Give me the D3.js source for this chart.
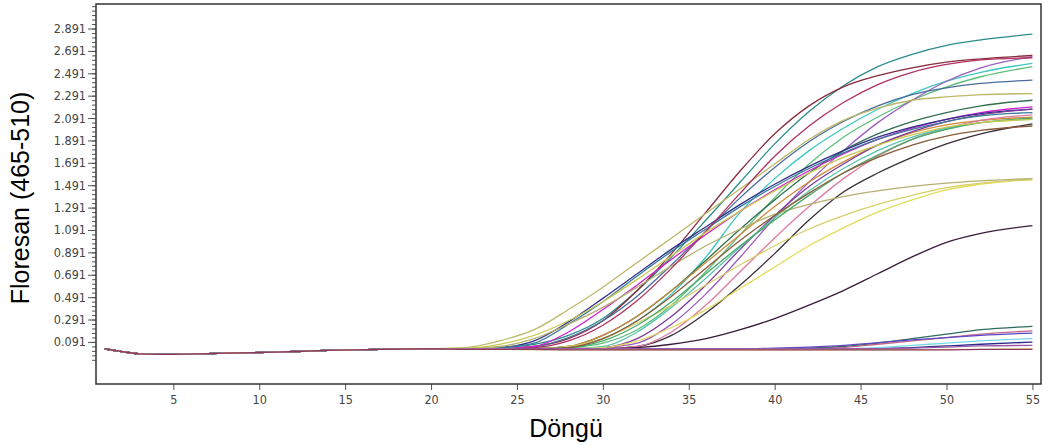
<!DOCTYPE html>
<html>
<head>
<meta charset="utf-8">
<script src="https://cdn.jsdelivr.net/npm/d3@7"></script>
<style>
  body { margin: 0; background: #fff; }
  .tick text { font-family: "Liberation Sans Narrow", "DejaVu Sans Condensed", sans-serif; font-size: 12.5px; fill: #444; }
  .tick line { stroke: #555; }
</style>
</head>
<body>
<svg id="chart" width="1049" height="445"></svg>
<script>
// Cycles
var earlyCycles = [1, 2, 3, 5, 8, 11, 14, 17];
var baseline = [0.03, 0.005, -0.015, -0.02, -0.01, 0.0, 0.015, 0.025];
var riseCycles = [20, 22, 24, 26, 28, 30, 32, 34, 36, 38, 40, 42, 44, 46, 48, 50, 52, 55];

// Tick labels
var yTickValues = [0.091, 0.291, 0.491, 0.691, 0.891, 1.091, 1.291, 1.491, 1.691, 1.891, 2.091, 2.291, 2.491, 2.691, 2.891];
var xTickValues = [5, 10, 15, 20, 25, 30, 35, 40, 45, 50, 55];

// Sample colours
var colors = [
  "#2b8c8c", "#8a2a3c", "#3cc8c0", "#5cbf7a", "#9a5cc0", "#4a6c9c", "#bdb868", "#2f6f4f",
  "#d020d0", "#30308a", "#3a2e3a", "#d08a3a", "#e07aa0", "#7a3a9a", "#5ec4b0", "#3a7a9a",
  "#e2dc5a", "#d8cf6a", "#b4b070", "#3c1c3c", "#48a868", "#8a5a3a", "#b03060", "#c8c850",
  "#2f6a5c", "#c06a88", "#5a48c8", "#7ad8e6", "#2a2a8a", "#9a5aa8", "#e6da8a", "#8a3a5a"
];

// Fluorescence from cycle 20 onwards (one row per sample)
var s1  = [0.03,0.03,0.04,0.07,0.15,0.30,0.55,0.85,1.18,1.52,1.86,2.15,2.38,2.55,2.66,2.74,2.79,2.84];
var s2  = [0.03,0.03,0.03,0.05,0.12,0.28,0.55,0.88,1.25,1.62,1.95,2.20,2.37,2.47,2.54,2.59,2.62,2.65];
var s3  = [0.03,0.03,0.03,0.03,0.05,0.12,0.28,0.52,0.85,1.25,1.55,1.80,2.00,2.17,2.31,2.42,2.50,2.58];
var s4  = [0.03,0.03,0.03,0.03,0.04,0.08,0.20,0.42,0.72,1.05,1.38,1.68,1.92,2.10,2.25,2.37,2.46,2.55];
var s5  = [0.03,0.03,0.03,0.03,0.03,0.04,0.08,0.25,0.52,0.85,1.20,1.52,1.80,2.05,2.25,2.42,2.54,2.64];
var s6  = [0.03,0.03,0.03,0.05,0.13,0.28,0.50,0.78,1.08,1.38,1.65,1.88,2.06,2.20,2.30,2.36,2.40,2.43];
var s7  = [0.03,0.04,0.10,0.20,0.38,0.58,0.80,1.02,1.24,1.46,1.68,1.90,2.07,2.18,2.25,2.28,2.30,2.31];
var s8  = [0.03,0.03,0.03,0.03,0.05,0.15,0.32,0.55,0.82,1.10,1.36,1.60,1.80,1.95,2.06,2.14,2.20,2.25];
var s9  = [0.03,0.03,0.03,0.05,0.18,0.38,0.60,0.83,1.05,1.26,1.45,1.62,1.77,1.90,2.00,2.08,2.14,2.19];
var s10 = [0.03,0.03,0.04,0.10,0.27,0.48,0.70,0.92,1.12,1.32,1.50,1.66,1.80,1.92,2.01,2.08,2.13,2.17];
var s11 = [0.03,0.03,0.03,0.03,0.03,0.03,0.05,0.15,0.35,0.60,0.88,1.18,1.43,1.60,1.74,1.86,1.95,2.04];
var s12 = [0.03,0.03,0.03,0.03,0.05,0.15,0.32,0.55,0.80,1.05,1.30,1.52,1.70,1.85,1.96,2.03,2.07,2.10];
var s13 = [0.03,0.03,0.03,0.03,0.03,0.03,0.05,0.18,0.42,0.72,1.02,1.30,1.55,1.75,1.90,2.00,2.07,2.12];
var s14 = [0.03,0.03,0.03,0.03,0.03,0.04,0.12,0.32,0.60,0.92,1.22,1.48,1.68,1.85,1.97,2.06,2.12,2.17];
var s15 = [0.03,0.03,0.03,0.03,0.03,0.05,0.18,0.40,0.66,0.94,1.20,1.44,1.64,1.80,1.92,2.00,2.05,2.08];
var s16 = [0.03,0.03,0.04,0.08,0.25,0.45,0.68,0.90,1.10,1.30,1.48,1.64,1.78,1.90,1.99,2.06,2.11,2.14];
var s17 = [0.03,0.03,0.03,0.03,0.03,0.04,0.10,0.22,0.38,0.57,0.76,0.95,1.11,1.25,1.36,1.45,1.50,1.55];
var s18 = [0.03,0.03,0.03,0.03,0.05,0.12,0.26,0.42,0.60,0.78,0.95,1.10,1.22,1.32,1.40,1.47,1.51,1.54];
var s19 = [0.03,0.03,0.05,0.12,0.25,0.40,0.58,0.77,0.95,1.10,1.23,1.32,1.39,1.44,1.48,1.51,1.53,1.55];
var s20 = [0.03,0.03,0.03,0.03,0.03,0.03,0.04,0.07,0.12,0.20,0.30,0.42,0.55,0.70,0.85,0.98,1.06,1.13];
var s21 = [0.03,0.03,0.03,0.03,0.04,0.10,0.24,0.45,0.70,0.95,1.18,1.40,1.60,1.76,1.90,1.99,2.05,2.09];
var s22 = [0.03,0.03,0.03,0.03,0.04,0.12,0.28,0.50,0.75,1.00,1.22,1.42,1.60,1.74,1.85,1.93,1.98,2.02];
var s23 = [0.03,0.03,0.03,0.04,0.10,0.24,0.46,0.75,1.08,1.42,1.75,2.02,2.23,2.39,2.50,2.57,2.61,2.63];
var s24 = [0.03,0.035,0.07,0.15,0.28,0.45,0.65,0.86,1.07,1.26,1.44,1.60,1.74,1.85,1.94,2.01,2.05,2.08];
var s25 = [0.03,0.03,0.03,0.03,0.03,0.03,0.03,0.03,0.03,0.03,0.03,0.035,0.05,0.08,0.12,0.16,0.20,0.23];
var s26 = [0.03,0.03,0.03,0.03,0.03,0.03,0.03,0.03,0.03,0.03,0.03,0.03,0.04,0.07,0.10,0.13,0.16,0.19];
var s27 = [0.03,0.03,0.03,0.03,0.03,0.03,0.03,0.03,0.03,0.03,0.035,0.045,0.06,0.085,0.11,0.13,0.15,0.17];
var s28 = [0.03,0.03,0.03,0.03,0.03,0.03,0.03,0.03,0.03,0.03,0.03,0.03,0.03,0.04,0.06,0.08,0.10,0.12];
var s29 = [0.03,0.03,0.03,0.03,0.03,0.03,0.03,0.03,0.03,0.03,0.03,0.03,0.03,0.03,0.04,0.055,0.07,0.09];
var s30 = [0.03,0.03,0.03,0.03,0.03,0.03,0.03,0.03,0.03,0.03,0.03,0.03,0.03,0.03,0.035,0.045,0.055,0.06];
var s31 = [0.03,0.025,0.025,0.02,0.02,0.02,0.02,0.02,0.02,0.02,0.02,0.02,0.02,0.02,0.02,0.025,0.025,0.03];
var s32 = [0.03,0.025,0.025,0.025,0.02,0.02,0.02,0.02,0.02,0.02,0.02,0.02,0.02,0.02,0.02,0.02,0.025,0.025];

var samples = [s1, s2, s3, s4, s5, s6, s7, s8, s9, s10, s11, s12, s13, s14, s15, s16,
  s17, s18, s19, s20, s21, s22, s23, s24, s25, s26, s27, s28, s29, s30, s31, s32];

var cycles = earlyCycles.concat(riseCycles);

var svg = d3.select("#chart");

var x = d3.scaleLinear()
  .domain([0.5, 55.5])
  .range([96, 1041]);

var y = d3.scaleLinear()
  .domain([-0.285, 3.11])
  .range([384, 4]);

// Axes
svg.append("g")
  .attr("transform", "translate(0,384)")
  .call(d3.axisBottom(x).tickValues(xTickValues).tickSize(6).tickPadding(5))
  .call(g => g.select(".domain").remove());

// minor y ticks
svg.append("g")
  .attr("transform", "translate(96,0)")
  .call(d3.axisLeft(y).tickValues(d3.range(-4, 76).map(k => 0.091 + k * 0.04)).tickSize(4).tickFormat(""))
  .call(g => g.select(".domain").remove());

svg.append("g")
  .attr("transform", "translate(96,0)")
  .call(d3.axisLeft(y).tickValues(yTickValues).tickSize(8).tickPadding(2).tickFormat(d3.format(".3f")))
  .call(g => g.select(".domain").remove());

// Curves
var line = d3.line()
  .x((d) => x(d[0]))
  .y((d) => y(d[1]))
  .curve(d3.curveMonotoneX);

svg.append("g")
  .selectAll("path")
  .data(samples)
  .enter()
  .append("path")
  .attr("d", (d) => line(cycles.map((c, i) => [c, i < baseline.length ? baseline[i] : d[i - baseline.length]])))
  .attr("fill", "none")
  .attr("stroke", (d, i) => colors[i])
  .attr("stroke-width", 1.3);

// Frame
svg.append("rect")
  .attr("x", 96)
  .attr("y", 4)
  .attr("width", 945)
  .attr("height", 380)
  .attr("fill", "none")
  .attr("stroke", "#333")
  .attr("stroke-width", 1.5);

// Titles
svg.append("text")
  .attr("x", 566)
  .attr("y", 437)
  .attr("text-anchor", "middle")
  .style("font-family", "Liberation Sans, Arial, sans-serif")
  .style("font-size", "25px")
  .text("Döngü");

svg.append("text")
  .attr("transform", "translate(29,198) rotate(-90)")
  .attr("text-anchor", "middle")
  .style("font-family", "Liberation Sans, Arial, sans-serif")
  .style("font-size", "25px")
  .text("Floresan (465-510)");
</script>
</body>
</html>
